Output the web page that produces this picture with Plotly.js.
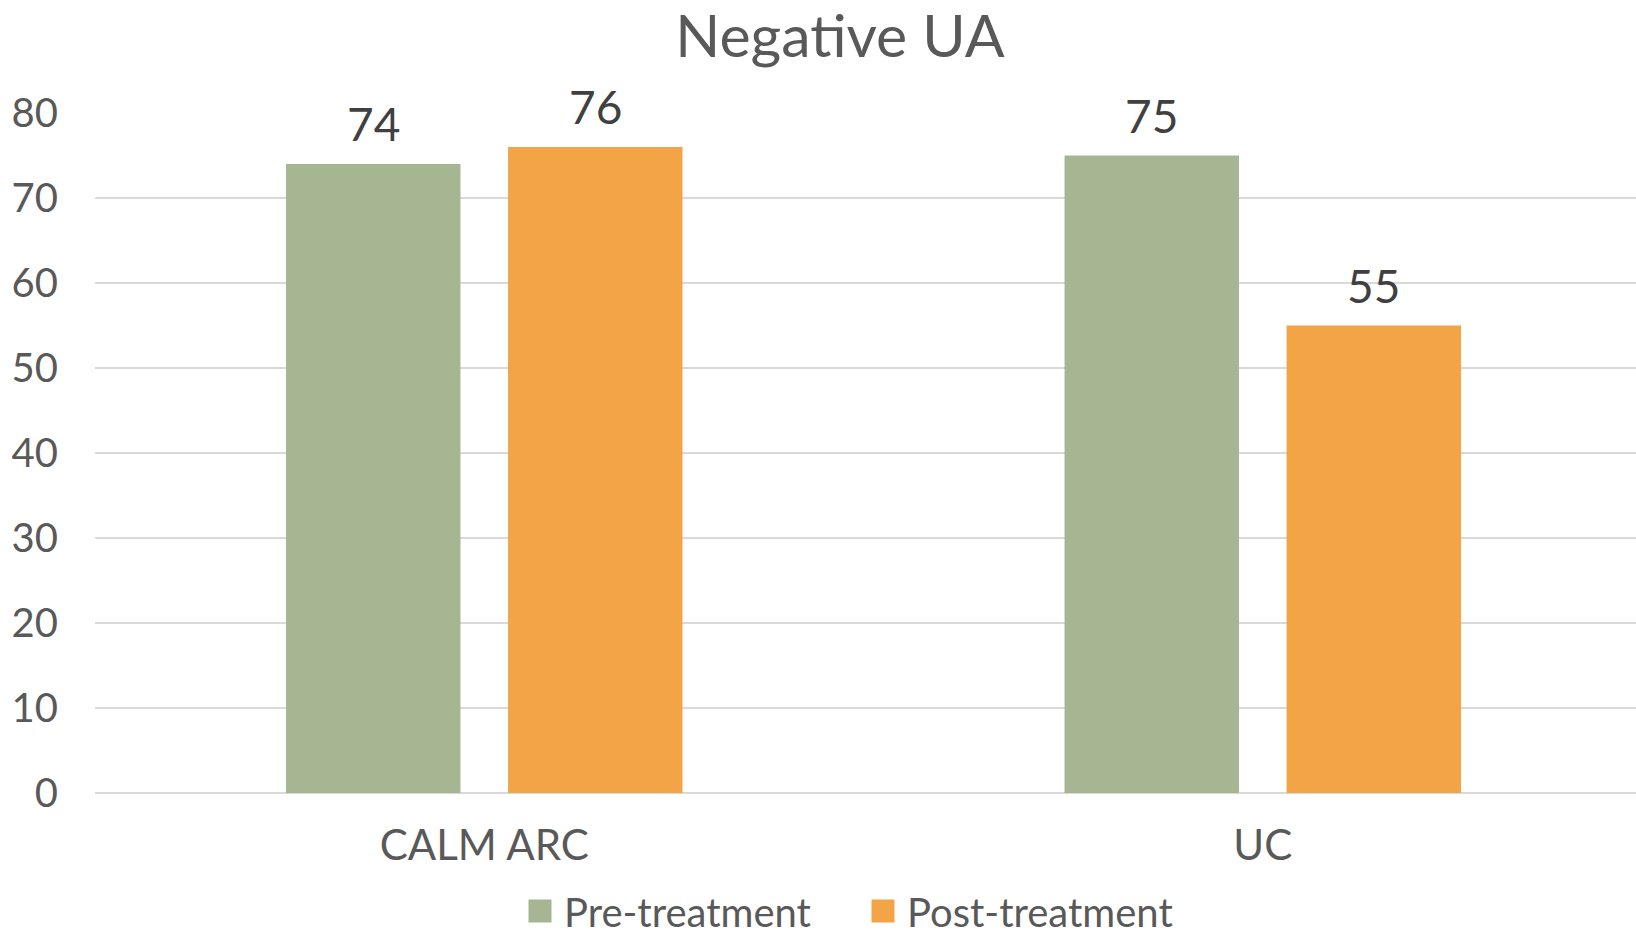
<!DOCTYPE html>
<html>
<head>
<meta charset="utf-8">
<script src="https://cdn.plot.ly/plotly-3.0.1.min.js"></script>
<style>html,body{margin:0;padding:0;background:#fff;}#chart{width:1636px;height:937px;}</style>
</head>
<body>
<div id="chart"></div>
<script>
const categories = ["CALM ARC", "UC"];
const seriesNames = ["Pre-treatment", "Post-treatment"];
const preTreatment = [74, 75];
const postTreatment = [76, 55];
const yTicks = [0, 10, 20, 30, 40, 50, 60, 70, 80];

const colors = ["#A6B592", "#F2A446"];
const FONT = "Lato, 'Open Sans', sans-serif";

const seriesValues = [preTreatment, postTreatment];
const traces = seriesValues.map((vals, i) => ({
  type: "bar",
  name: seriesNames[i],
  x: categories,
  y: vals,
  marker: {color: colors[i]},
  hoverinfo: "x+y+name"
}));

const halfSlot = 111;
const annotations = [];
seriesValues.forEach((vals, i) => {
  vals.forEach((v, j) => {
    annotations.push({
      x: categories[j], y: v, xref: "x", yref: "y",
      text: String(v), showarrow: false,
      xanchor: "center", yanchor: "bottom",
      xshift: (i === 0 ? -halfSlot : halfSlot), yshift: 11,
      font: {family: FONT, size: 46, color: "#404040"}
    });
  });
});

const layout = {
  width: 1636, height: 937,
  margin: {l: 95, r: 0, t: 113, b: 144, pad: 0},
  paper_bgcolor: "#ffffff", plot_bgcolor: "#ffffff",
  title: {
    text: "Negative UA",
    font: {family: FONT, size: 59, color: "#595959"},
    x: 840 / 1636, xref: "container", xanchor: "center",
    y: 1 - 36 / 937, yref: "container", yanchor: "middle"
  },
  barmode: "group",
  bargap: 0.4296,
  bargroupgap: 0.2144,
  xaxis: {
    type: "category",
    range: [-0.5, 1.4794],
    showgrid: false, zeroline: false, showline: false,
    ticks: "", ticklabelstandoff: 24,
    tickfont: {family: FONT, size: 42, color: "#595959"},
    fixedrange: true
  },
  yaxis: {
    range: [0, 80],
    tickvals: yTicks,
    ticktext: yTicks.map(String),
    showgrid: true, gridcolor: "#D9D9D9", gridwidth: 2,
    zeroline: true, zerolinecolor: "#D9D9D9", zerolinewidth: 2,
    showline: false, ticks: "", ticklabelstandoff: 36,
    tickfont: {family: FONT, size: 40, color: "#595959"},
    fixedrange: true
  },
  legend: {
    orientation: "h",
    x: 516 / 1636, xref: "container", xanchor: "left",
    y: 1 - 911 / 937, yref: "container", yanchor: "middle",
    entrywidth: 290,
    itemwidth: 38,
    font: {family: FONT, size: 40, color: "#595959"},
    itemclick: false, itemdoubleclick: false
  },
  annotations: annotations,
  showlegend: true
};

Plotly.newPlot("chart", traces, layout, {displayModeBar: false, responsive: false}).then(() => {
  document.querySelectorAll("#chart .legendpoints path").forEach(p => {
    p.setAttribute("d", "M11.5,11.5H-11.5V-11.5H11.5Z");
  });
});
</script>
</body>
</html>
